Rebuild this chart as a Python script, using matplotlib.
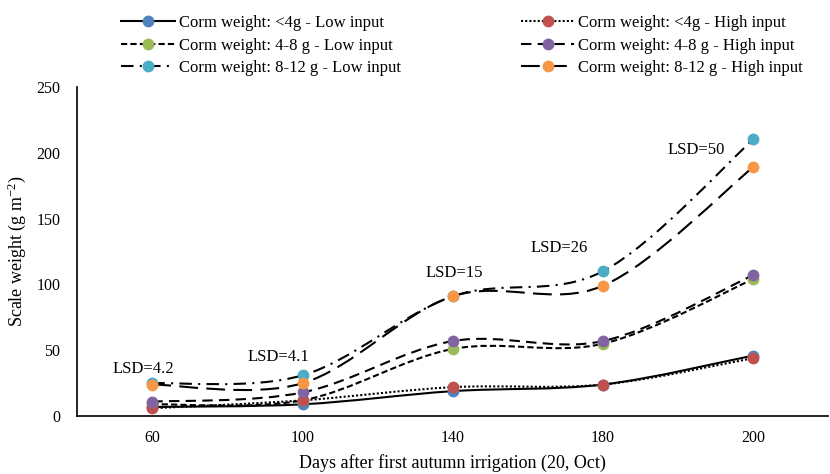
import numpy as np
import matplotlib.pyplot as plt
from matplotlib.path import Path
from matplotlib.patches import PathPatch
from matplotlib.lines import Line2D

plt.rcParams['font.family'] = ['Liberation Serif', 'DejaVu Serif']
plt.rcParams['mathtext.fontset'] = 'custom'
plt.rcParams['mathtext.rm'] = 'Liberation Serif'
plt.rcParams['mathtext.default'] = 'regular'

# -----------------------------
# DATA
# -----------------------------
days = ['60', '100', '140', '180', '200']

low_lt4 = [7, 9, 19, 24, 46]
high_lt4 = [6, 12, 22, 24, 44]
low_4_8 = [9, 12, 51, 55, 104]
high_4_8 = [11, 18, 57, 57, 107]
low_8_12 = [25, 31, 91, 110, 210]
high_8_12 = [24, 25, 91, 99, 189]

lsd_labels = ['LSD=4.2', 'LSD=4.1', 'LSD=15', 'LSD=26', 'LSD=50']
lsd_x = [-0.06, 0.84, 2.01, 2.71, 3.62]
lsd_y = [36, 45, 109, 128, 202]

series = [
    ('Corm weight: <4g - Low input', low_lt4, '#4F81BD', '-'),
    ('Corm weight: 4-8 g - Low input', low_4_8, '#9BBB59', (0, (3, 1.5))),
    ('Corm weight: 8-12 g - Low input', low_8_12, '#4BACC6', (0, (6, 3, 1, 3))),
    ('Corm weight: <4g - High input', high_lt4, '#C0504D', (0, (1, 1))),
    ('Corm weight: 4-8 g - High input', high_4_8, '#8064A2', (0, (5, 3))),
    ('Corm weight: 8-12 g - High input', high_8_12, '#F79646', (0, (9, 4))),
]


def smooth_path(x, y):
    # cubic Bezier segments through the points (spreadsheet-style smoothing)
    p = np.column_stack([x, y]).astype(float)
    ext = np.vstack([p[0], p, p[-1]])
    verts = [p[0]]
    codes = [Path.MOVETO]
    for i in range(len(p) - 1):
        p0, p1, p2, p3 = ext[i], ext[i + 1], ext[i + 2], ext[i + 3]
        c1 = p1 + (p2 - p0) / 6
        c2 = p2 - (p3 - p1) / 6
        verts += [c1, c2, p2]
        codes += [Path.CURVE4] * 3
    return Path(verts, codes)


# -----------------------------
# PLOT
# -----------------------------
fig = plt.figure(figsize=(8.3, 4.74), dpi=100)
ax = fig.add_axes([0.093, 0.122, 0.905, 0.695])

x = np.arange(len(days))
handles = []
for label, vals, color, ls in series:
    ax.add_patch(PathPatch(smooth_path(x, vals), fill=False, edgecolor='black',
                           linestyle=ls, linewidth=1.5, zorder=2))
    ax.plot(x, vals, 'o', color=color, markersize=7.5, zorder=3)
    handles.append(Line2D([0, 1, 2], [0, 0, 0], color='black', linestyle=ls,
                          linewidth=1.5, marker='o', markersize=7.5,
                          markerfacecolor=color, markeredgecolor=color,
                          markevery=[1]))

for t, tx, ty in zip(lsd_labels, lsd_x, lsd_y):
    ax.text(tx, ty, t, ha='center', va='center', fontsize=12)

ax.set_xlim(-0.5, len(days) - 0.5)
ax.set_ylim(0, 250)
ax.set_xticks(x)
ax.set_xticklabels(days)
ax.set_yticks(np.arange(0, 251, 50))
ax.tick_params(length=0, labelsize=11.5, pad=10)
ax.tick_params(axis='y', pad=12)
for s in ['top', 'right']:
    ax.spines[s].set_visible(False)
ax.spines['left'].set_linewidth(1.2)
ax.spines['bottom'].set_linewidth(1.2)

ax.set_xlabel('Days after first autumn irrigation (20, Oct)', fontsize=13, labelpad=6)
ax.set_ylabel('Scale weight (g m$^{-2}$)', fontsize=13, labelpad=6)

fig.legend(handles=handles, labels=[s[0] for s in series], ncol=2,
           loc='upper center', bbox_to_anchor=(0.557, 1.0), frameon=False,
           fontsize=12, handlelength=3.2, handletextpad=0.25,
           columnspacing=7.2, labelspacing=0.4)

plt.savefig('out.png', dpi=100)
